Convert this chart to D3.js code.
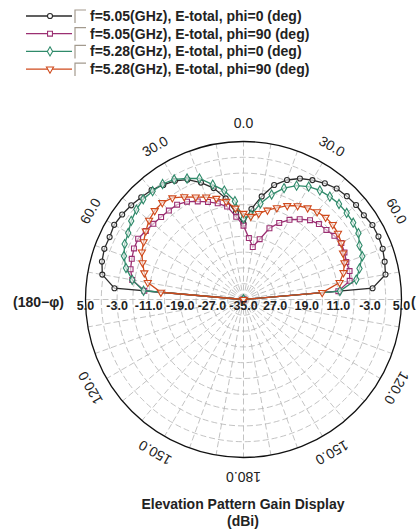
<!DOCTYPE html>
<html>
<head>
<meta charset="utf-8">
<script src="https://cdn.jsdelivr.net/npm/d3@7"></script>
<style>
  html, body { margin: 0; padding: 0; background: #fff; }
  svg { display: block; font-family: Arial, "Liberation Sans", sans-serif; }
</style>
</head>
<body>
<div id="chart"></div>
<script>
// theta in degrees (0 = top, positive = clockwise)
var thetaDeg = [-90, -85, -80, -75, -70, -65, -60, -55, -50, -45, -40, -35, -30, -25, -20, -15, -10, -5, 0,
  5, 10, 15, 20, 25, 30, 35, 40, 45, 50, 55, 60, 65, 70, 75, 80, 85, 90];

// gain in dBi, one value per theta
var gain505phi0 = [-40, -2.2, 1.3, 2.1, 2.5, 2.4, 2.8, 2.5, 2.1, 1.6, 1.2, 0.4, -0.3, -1.5, -3.5, -5.8, -9.0, -13.0, -15.8,
  -12.0, -8.5, -5.0, -2.8, -1.2, -0.1, 0.9, 1.7, 2.0, 2.2, 2.2, 2.7, 2.7, 2.5, 2.0, 1.5, -2.2, -40];
var gain505phi90 = [-40, -9.8, -6.4, -5.4, -4.9, -4.4, -4.2, -4.8, -5.2, -5.5, -5.6, -5.7, -6.4, -7.6, -8.7, -9.8, -11.1, -14.0, -16.3,
  -19.4, -21.5, -19.2, -15.8, -13.6, -11.7, -10.2, -8.8, -8.0, -7.6, -6.9, -6.4, -6.8, -7.3, -7.2, -7.7, -10.9, -40];
var gain528phi0 = [-40, -9.6, -6.4, -4.2, -2.8, -1.8, -1.3, -0.3, 0.4, 0.9, 0.8, 0.7, 0.1, -1.2, -2.4, -4.9, -7.0, -10.0, -14.5,
  -13.5, -10.3, -7.5, -5.0, -3.2, -2.0, -1.3, -1.0, -0.8, -0.9, -1.1, -1.4, -2.6, -3.0, -4.6, -6.0, -10.5, -40];
var gain528phi90 = [-40, -14.0, -10.4, -9.0, -7.8, -6.6, -5.8, -4.8, -3.8, -3.2, -3.0, -3.6, -5.0, -6.4, -7.4, -8.5, -9.8, -11.8, -13.2,
  -13.9, -12.9, -11.6, -10.3, -8.8, -7.6, -6.7, -6.0, -5.6, -5.5, -5.8, -6.4, -7.2, -7.8, -8.8, -10.3, -15.0, -40];

var seriesNames = ['f=5.05(GHz), E-total, phi=0 (deg)', 'f=5.05(GHz), E-total, phi=90 (deg)',
  'f=5.28(GHz), E-total, phi=0 (deg)', 'f=5.28(GHz), E-total, phi=90 (deg)'];

// radial axis
var radialDomain = [-35, 5];
var ringValues = [-31, -27, -23, -19, -15, -11, -7, -3, 1];
var leftTickLabels = ['5.0', '-3.0', '-11.0', '-19.0', '-27.0', '-35.0'];
var leftTickValues = [5, -3, -11, -19, -27, -35];
var rightTickLabels = ['27.0', '19.0', '11.0', '-3.0', '5.0'];
var rightTickValues = [-27, -19, -11, -3, 5];

// angular axis
var angleLabelDeg = [0, 30, 60, 120, 150, 180, -150, -120, -60, -30];
var angleLabels = ['0.0', '30.0', '60.0', '120.0', '150.0', '180.0', '150.0', '120.0', '60.0', '30.0'];
var spokeDeg = [0, 10, 20, 30, 40, 50, 60, 70, 80, 90, 100, 110, 120, 130, 140, 150, 160, 170,
  180, 190, 200, 210, 220, 230, 240, 250, 260, 270, 280, 290, 300, 310, 320, 330, 340, 350];

(function () {
  var width = 418, height = 531;
  var cx = 243.5, cy = 299.5, R = 158;

  var series = [
    { name: seriesNames[0], values: gain505phi0, color: '#2b2b2b', symbol: d3.symbolCircle, size: 20, rot: 0 },
    { name: seriesNames[1], values: gain505phi90, color: '#9b2f72', symbol: d3.symbolSquare, size: 24, rot: 0 },
    { name: seriesNames[2], values: gain528phi0, color: '#2f8a6a', symbol: d3.symbolDiamond, size: 24, rot: 0 },
    { name: seriesNames[3], values: gain528phi90, color: '#cf4a1c', symbol: d3.symbolTriangle, size: 22, rot: 180 }
  ];

  var svg = d3.select('#chart')
    .append('svg')
    .attr('width', width)
    .attr('height', height);

  var r = d3.scaleLinear().domain(radialDomain).range([0, R]).clamp(true);
  var rad = function (deg) { return deg * Math.PI / 180; };

  var plot = svg.append('g')
    .attr('transform', 'translate(' + cx + ',' + cy + ')');

  // Grid rings
  plot.append('g').selectAll('circle')
    .data(ringValues)
    .enter()
    .append('circle')
    .attr('r', function (d) { return r(d); })
    .attr('fill', 'none')
    .attr('stroke', '#b4b4b4')
    .attr('stroke-width', 0.8)
    .attr('stroke-dasharray', '6,3');

  // Spokes
  plot.append('g').selectAll('line')
    .data(spokeDeg)
    .enter()
    .append('line')
    .attr('x1', 0)
    .attr('y1', 0)
    .attr('x2', function (d) { return R * Math.sin(rad(d)); })
    .attr('y2', function (d) { return -R * Math.cos(rad(d)); })
    .attr('stroke', '#b4b4b4')
    .attr('stroke-width', 0.8)
    .attr('stroke-dasharray', '6,3');

  // Outer circle
  plot.append('circle')
    .attr('r', r(radialDomain[1]))
    .attr('fill', 'none')
    .attr('stroke', '#111')
    .attr('stroke-width', 1.3);

  // Angle labels, rotated along the circle
  var labelR = 177;
  plot.append('g').selectAll('text')
    .data(angleLabelDeg)
    .enter()
    .append('text')
    .attr('transform', function (d) {
      var x = labelR * Math.sin(rad(d)), y = -labelR * Math.cos(rad(d));
      return 'translate(' + x + ',' + y + ') rotate(' + d + ')';
    })
    .attr('text-anchor', 'middle')
    .attr('dominant-baseline', 'central')
    .attr('font-size', 14)
    .attr('fill', '#222')
    .text(function (d, i) { return angleLabels[i]; });

  // Series lines and markers
  var line = d3.lineRadial()
    .angle(function (d, i) { return rad(thetaDeg[i]); })
    .radius(function (d) { return r(d); });

  series.forEach(function (s) {
    var g = plot.append('g');
    g.append('path')
      .datum(s.values)
      .attr('d', line)
      .attr('fill', 'none')
      .attr('stroke', s.color)
      .attr('stroke-width', 1.3);

    g.selectAll('path.mk')
      .data(s.values)
      .enter()
      .append('path')
      .attr('class', 'mk')
      .attr('d', d3.symbol().type(s.symbol).size(s.size))
      .attr('transform', function (d, i) {
        var a = rad(thetaDeg[i]);
        return 'translate(' + (r(d) * Math.sin(a)) + ',' + (-r(d) * Math.cos(a)) + ') rotate(' + s.rot + ')';
      })
      .attr('fill', '#fff')
      .attr('fill-opacity', 0.6)
      .attr('stroke', s.color)
      .attr('stroke-width', 1.1);
  });

  // Radial tick labels along the horizontal axis
  var tickData = leftTickValues.map(function (v, i) {
    return { x: -r(v), label: leftTickLabels[i] };
  }).concat(rightTickValues.map(function (v, i) {
    return { x: r(v), label: rightTickLabels[i] };
  }));

  var ticks = plot.append('g').selectAll('g')
    .data(tickData)
    .enter()
    .append('g')
    .attr('transform', function (d) { return 'translate(' + d.x + ',6)'; });

  ticks.append('text')
    .attr('text-anchor', 'middle')
    .attr('dominant-baseline', 'central')
    .attr('font-size', 12.5)
    .attr('font-weight', 'bold')
    .attr('fill', '#222')
    .text(function (d) { return d.label; });

  // Axis captions at both ends
  svg.append('text')
    .attr('x', 13)
    .attr('y', 302)
    .attr('dominant-baseline', 'central')
    .attr('font-size', 14)
    .attr('font-weight', 'bold')
    .attr('fill', '#222')
    .text('(180\u2212\u03c6)');

  svg.append('text')
    .attr('x', 411)
    .attr('y', 302)
    .attr('dominant-baseline', 'central')
    .attr('font-size', 14)
    .attr('font-weight', 'bold')
    .attr('fill', '#222')
    .text('(');

  // Legend
  var legend = svg.append('g').selectAll('g')
    .data(series)
    .enter()
    .append('g')
    .attr('transform', function (d, i) { return 'translate(0,' + (16 + i * 17.7) + ')'; });

  legend.append('line')
    .attr('x1', 26)
    .attr('x2', 72)
    .attr('y1', 0)
    .attr('y2', 0)
    .attr('stroke', function (d) { return d.color; })
    .attr('stroke-width', 1.3);

  legend.append('path')
    .attr('d', function (d) { return d3.symbol().type(d.symbol).size(d.size)(); })
    .attr('transform', function (d) { return 'translate(50,0) rotate(' + d.rot + ')'; })
    .attr('fill', '#fff')
    .attr('stroke', function (d) { return d.color; })
    .attr('stroke-width', 1.1);

  // checkbox corner
  legend.append('path')
    .attr('d', 'M75,7V-6H86')
    .attr('fill', 'none')
    .attr('stroke', '#a39a8e')
    .attr('stroke-width', 1.2);

  legend.append('text')
    .attr('x', 90)
    .attr('y', 0)
    .attr('dominant-baseline', 'central')
    .attr('font-size', 14)
    .attr('font-weight', 'bold')
    .attr('fill', '#222')
    .text(function (d) { return d.name; });

  // Title
  svg.append('text')
    .attr('x', 243)
    .attr('y', 504)
    .attr('text-anchor', 'middle')
    .attr('dominant-baseline', 'central')
    .attr('font-size', 14)
    .attr('font-weight', 'bold')
    .attr('fill', '#222')
    .text('Elevation Pattern Gain Display');

  svg.append('text')
    .attr('x', 243)
    .attr('y', 521)
    .attr('text-anchor', 'middle')
    .attr('dominant-baseline', 'central')
    .attr('font-size', 14)
    .attr('font-weight', 'bold')
    .attr('fill', '#222')
    .text('(dBi)');
})();
</script>
</body>
</html>
